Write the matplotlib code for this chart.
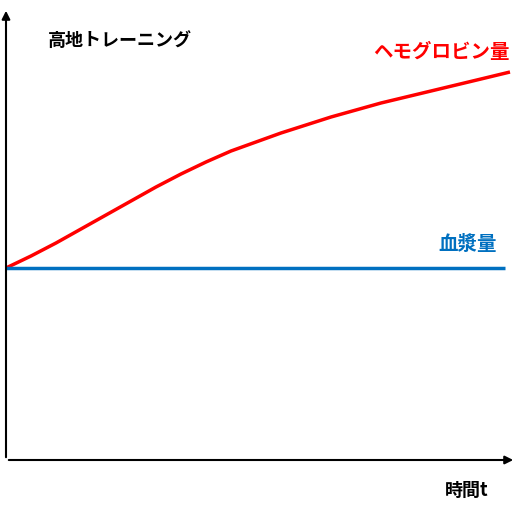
import matplotlib.pyplot as plt
import numpy as np

plt.rcParams['font.family'] = ['Noto Sans CJK JP', 'DejaVu Sans']

# schematic values (time in arbitrary units, level in arbitrary units)
time = [0, 25, 50, 75, 100, 125, 150, 175, 200, 225, 250, 275, 300, 325, 350,
        375, 400, 425, 450, 475, 504]
hemoglobin = [192, 204, 217, 231, 245, 259, 273, 286, 298, 309, 318, 327, 335,
              343, 350, 357, 363, 369, 375, 381, 388]
plasma_time = [0, 499]
plasma = [192, 192]

fig = plt.figure(figsize=(5.24, 5.08), dpi=100)
ax = fig.add_axes([0, 0, 1, 1])
ax.set_xlim(-6, 518)
ax.set_ylim(-48, 460)
ax.axis('off')

# axes arrows
ax.annotate('', xy=(0, 452), xytext=(0, 0),
            arrowprops=dict(arrowstyle='-|>', color='black', lw=1.5, mutation_scale=12))
ax.annotate('', xy=(510, 0), xytext=(0, 0),
            arrowprops=dict(arrowstyle='-|>', color='black', lw=1.5, mutation_scale=12))

ax.plot(time, hemoglobin, color='#ff0000', lw=2.5, solid_capstyle='butt')
ax.plot(plasma_time, plasma, color='#0070c0', lw=2.5, solid_capstyle='butt')

ax.text(42, 420, '高地トレーニング', fontsize=13, fontweight='bold', va='center')
ax.text(504, 408, 'ヘモグロビン量', fontsize=14, fontweight='bold', color='#ff0000',
        ha='right', va='center')
ax.text(491, 216, '血漿量', fontsize=14, fontweight='bold', color='#0070c0',
        ha='right', va='center')
ax.text(439, -30, '時間t', fontsize=13, fontweight='bold', va='center')

fig.savefig('out.png', dpi=100)
